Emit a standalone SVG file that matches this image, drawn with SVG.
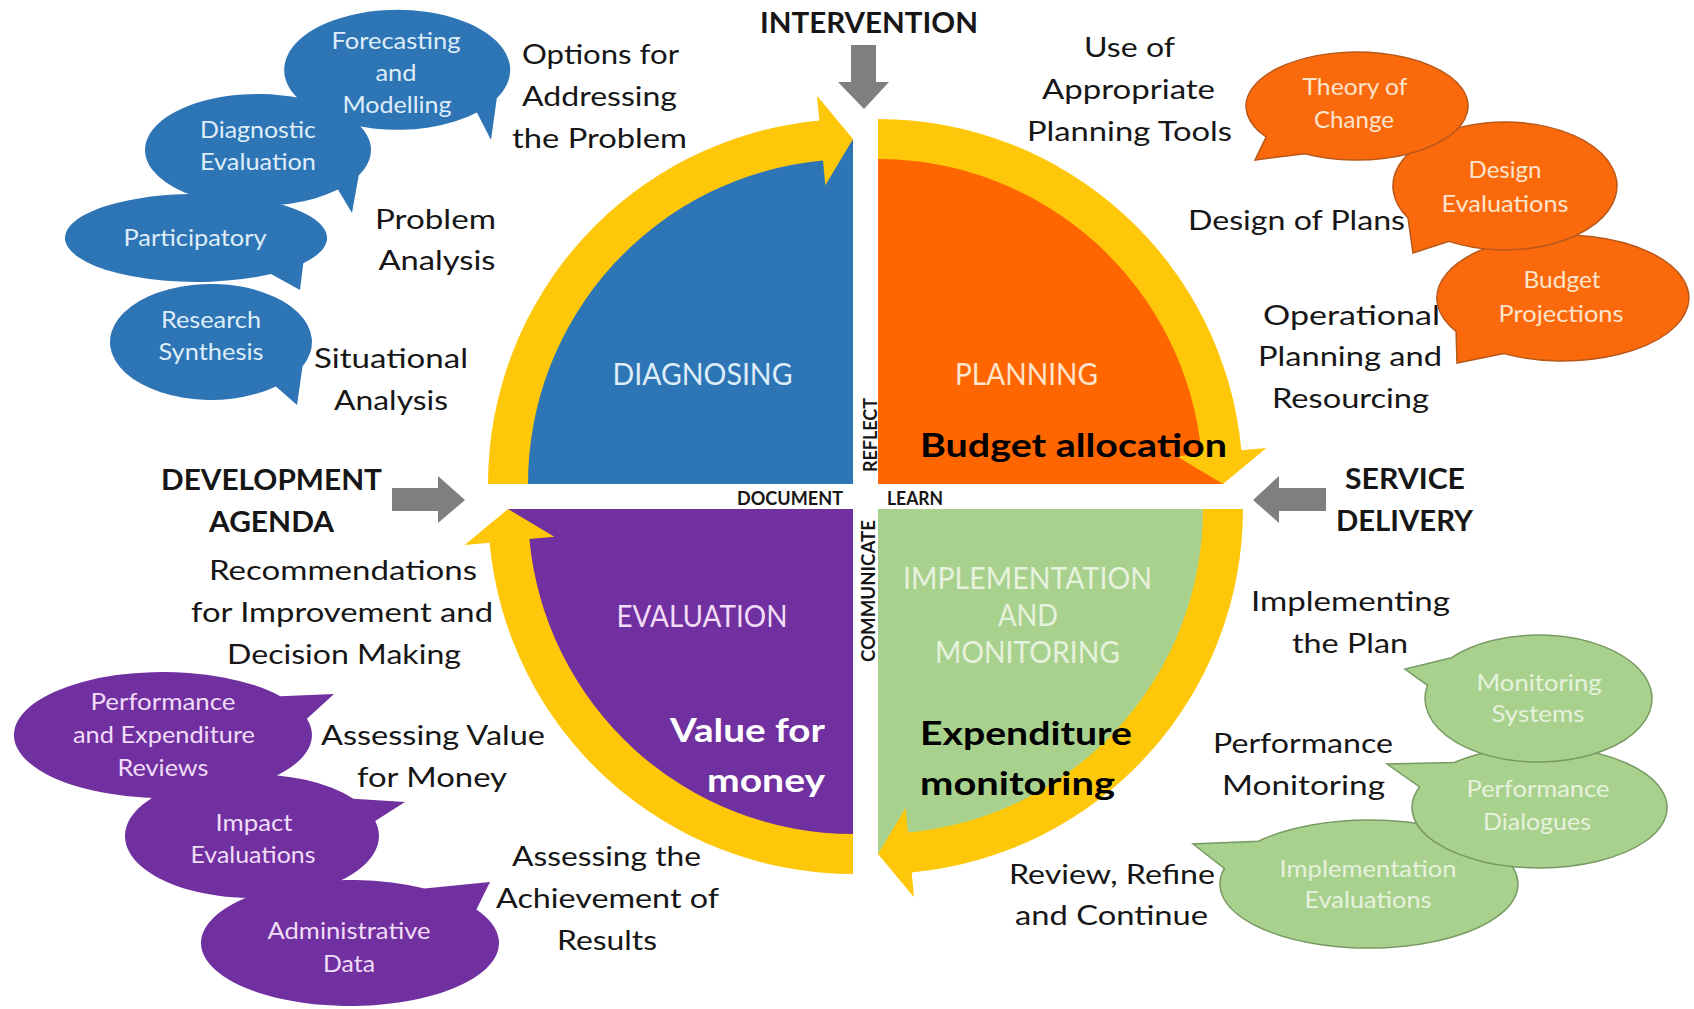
<svg xmlns="http://www.w3.org/2000/svg" width="1694" height="1009" viewBox="0 0 1694 1009">
  <defs>
    <style>
      text { font-family: Lato, "Open Sans", "Liberation Sans", sans-serif; }
      .lbl { font-size: 27px; fill: #161616; text-anchor: middle; }
      .hd { font-size: 29px; font-weight: 700; fill: #161616; text-anchor: middle; }
      .tag { font-size: 18px; font-weight: 700; fill: #161616; }
      .bt { font-size: 23px; text-anchor: middle; }
      .qt { font-size: 30px; text-anchor: middle; }
      .emph { font-size: 33px; font-weight: 700; }
      .ring { fill: #ffc709; }
      .gray { fill: #7f7f7f; }
      .q-blue, .b-blue { fill: #2e75b6; }
      .q-orange { fill: #ff6600; }
      .b-orange { fill: #fa6a0c; stroke: #b8581a; stroke-width: 1.5; }
      .q-green { fill: #a9d18e; }
      .b-green { fill: #a9d18e; stroke: #789a62; stroke-width: 1.5; }
      .q-purple, .b-purple { fill: #7030a0; }
      .t-blue { fill: #deedf8; }
      .t-orange { fill: #fde4cc; }
      .t-green { fill: #e6f2dd; }
      .t-purple { fill: #f1dcf7; }
      .t-white { fill: #ffffff; }
      .t-black { fill: #000000; }
    </style>
  </defs>
  <rect width="1694" height="1009" fill="#ffffff"/>

  <!-- four quadrants of the cycle -->
  <g id="quadrant-diagnosing"><path class="q-blue" d="M853 484 L508 484 A345 345 0 0 1 853 139 Z"/></g>
  <g id="quadrant-planning"><path class="q-orange" d="M878 484 L878 139 A345 345 0 0 1 1223 484 Z"/></g>
  <g id="quadrant-implementation"><path class="q-green" d="M878 509 L1223 509 A345 345 0 0 1 878 854 Z"/></g>
  <g id="quadrant-evaluation"><path class="q-purple" d="M853 509 L853 854 A345 345 0 0 1 508 509 Z"/></g>

  <!-- cycle arrows and external input arrows -->
  <g id="connectors">
    <path class="ring" d="M488 484 A365 365 0 0 1 819.3 120.6 L817 95.7 L853 139 L825.3 185.3 L823 160.4 A325 325 0 0 0 528 484 Z"/>
    <path class="ring" d="M878 119 A365 365 0 0 1 1241.4 450.3 L1266.3 448 L1223 484 L1176.7 456.3 L1201.6 454 A325 325 0 0 0 878 159 Z"/>
    <path class="ring" d="M1243 509 A365 365 0 0 1 911.7 872.4 L914 897.3 L878 854 L905.7 807.7 L908 832.6 A325 325 0 0 0 1203 509 Z"/>
    <path class="ring" d="M853 874 A365 365 0 0 1 489.6 542.7 L464.7 545 L508 509 L554.3 536.7 L529.4 539 A325 325 0 0 0 853 834 Z"/>
    <path class="gray" d="M851 45 L876 45 L876 82 L889 82 L864 109 L838 82 L851 82 Z"/>
    <path class="gray" d="M392 488 L438 488 L438 476 L465 500 L438 523 L438 511 L392 511 Z"/>
    <path class="gray" d="M1326 488 L1279 488 L1279 476 L1253 500 L1279 523 L1279 511 L1326 511 Z"/>
  </g>

  <!-- quadrant titles and highlights -->
  <g id="label-diagnosing"><text class="qt t-blue" x="702.5" y="385" textLength="180" lengthAdjust="spacingAndGlyphs">DIAGNOSING</text></g>
  <g id="label-planning"><text class="qt t-orange" x="1026.5" y="385" textLength="143" lengthAdjust="spacingAndGlyphs">PLANNING</text></g>
  <g id="label-evaluation"><text class="qt t-purple" x="702" y="627" textLength="171" lengthAdjust="spacingAndGlyphs">EVALUATION</text></g>
  <g id="label-implementation">
    <text class="qt t-green" x="1027.5" y="589" textLength="249" lengthAdjust="spacingAndGlyphs">IMPLEMENTATION</text>
    <text class="qt t-green" x="1028" y="626" textLength="60" lengthAdjust="spacingAndGlyphs">AND</text>
    <text class="qt t-green" x="1027.5" y="663" textLength="185" lengthAdjust="spacingAndGlyphs">MONITORING</text>
  </g>
  <g id="note-budget-allocation"><text class="emph t-black" x="920" y="457" textLength="307" lengthAdjust="spacingAndGlyphs">Budget allocation</text></g>
  <g id="note-value-for-money">
    <text class="emph t-white" x="825" y="742" text-anchor="end" textLength="155" lengthAdjust="spacingAndGlyphs">Value for</text>
    <text class="emph t-white" x="825" y="792" text-anchor="end" textLength="118" lengthAdjust="spacingAndGlyphs">money</text>
  </g>
  <g id="note-expenditure-monitoring">
    <text class="emph t-black" x="920" y="745" textLength="212" lengthAdjust="spacingAndGlyphs">Expenditure</text>
    <text class="emph t-black" x="920" y="795" textLength="195" lengthAdjust="spacingAndGlyphs">monitoring</text>
  </g>

  <!-- words in the gaps between quadrants -->
  <g id="gap-words">
    <text class="tag" x="737" y="505" textLength="106" lengthAdjust="spacingAndGlyphs">DOCUMENT</text>
    <text class="tag" x="887" y="505" textLength="56" lengthAdjust="spacingAndGlyphs">LEARN</text>
    <text class="tag" transform="translate(877 472) rotate(-90)" textLength="74" lengthAdjust="spacingAndGlyphs">REFLECT</text>
    <text class="tag" transform="translate(875 662) rotate(-90)" textLength="142" lengthAdjust="spacingAndGlyphs">COMMUNICATE</text>
  </g>

  <!-- external drivers -->
  <g id="driver-intervention"><text class="hd" x="869" y="33" textLength="218" lengthAdjust="spacingAndGlyphs">INTERVENTION</text></g>
  <g id="driver-development-agenda">
    <text class="hd" x="271.5" y="490" textLength="221" lengthAdjust="spacingAndGlyphs">DEVELOPMENT</text>
    <text class="hd" x="271.5" y="532" textLength="125" lengthAdjust="spacingAndGlyphs">AGENDA</text>
  </g>
  <g id="driver-service-delivery">
    <text class="hd" x="1405" y="489" textLength="120" lengthAdjust="spacingAndGlyphs">SERVICE</text>
    <text class="hd" x="1404.5" y="531" textLength="137" lengthAdjust="spacingAndGlyphs">DELIVERY</text>
  </g>

  <!-- step labels around the cycle -->
  <g id="step-options">
    <text class="lbl" x="600.5" y="64" textLength="157" lengthAdjust="spacingAndGlyphs">Options for</text>
    <text class="lbl" x="599.5" y="106" textLength="155" lengthAdjust="spacingAndGlyphs">Addressing</text>
    <text class="lbl" x="599.5" y="148" textLength="175" lengthAdjust="spacingAndGlyphs">the Problem</text>
  </g>
  <g id="step-problem-analysis">
    <text class="lbl" x="435.5" y="229" textLength="121" lengthAdjust="spacingAndGlyphs">Problem</text>
    <text class="lbl" x="437" y="270" textLength="117" lengthAdjust="spacingAndGlyphs">Analysis</text>
  </g>
  <g id="step-situational-analysis">
    <text class="lbl" x="391" y="368" textLength="154" lengthAdjust="spacingAndGlyphs">Situational</text>
    <text class="lbl" x="391" y="410" textLength="114" lengthAdjust="spacingAndGlyphs">Analysis</text>
  </g>
  <g id="step-planning-tools">
    <text class="lbl" x="1129.5" y="57" textLength="91" lengthAdjust="spacingAndGlyphs">Use of</text>
    <text class="lbl" x="1128.5" y="99" textLength="173" lengthAdjust="spacingAndGlyphs">Appropriate</text>
    <text class="lbl" x="1129.5" y="141" textLength="205" lengthAdjust="spacingAndGlyphs">Planning Tools</text>
  </g>
  <g id="step-design-of-plans"><text class="lbl" x="1296.5" y="230" textLength="217" lengthAdjust="spacingAndGlyphs">Design of Plans</text></g>
  <g id="step-operational-planning">
    <text class="lbl" x="1351.5" y="325" textLength="177" lengthAdjust="spacingAndGlyphs">Operational</text>
    <text class="lbl" x="1350" y="366" textLength="184" lengthAdjust="spacingAndGlyphs">Planning and</text>
    <text class="lbl" x="1350.5" y="408" textLength="157" lengthAdjust="spacingAndGlyphs">Resourcing</text>
  </g>
  <g id="step-implementing">
    <text class="lbl" x="1350.5" y="611" textLength="199" lengthAdjust="spacingAndGlyphs">Implementing</text>
    <text class="lbl" x="1350" y="653" textLength="116" lengthAdjust="spacingAndGlyphs">the Plan</text>
  </g>
  <g id="step-performance-monitoring">
    <text class="lbl" x="1303" y="753" textLength="180" lengthAdjust="spacingAndGlyphs">Performance</text>
    <text class="lbl" x="1303.5" y="795" textLength="163" lengthAdjust="spacingAndGlyphs">Monitoring</text>
  </g>
  <g id="step-review">
    <text class="lbl" x="1112" y="884" textLength="206" lengthAdjust="spacingAndGlyphs">Review, Refine</text>
    <text class="lbl" x="1111.5" y="925" textLength="193" lengthAdjust="spacingAndGlyphs">and Continue</text>
  </g>
  <g id="step-achievement">
    <text class="lbl" x="606.5" y="866" textLength="189" lengthAdjust="spacingAndGlyphs">Assessing the</text>
    <text class="lbl" x="607.5" y="908" textLength="223" lengthAdjust="spacingAndGlyphs">Achievement of</text>
    <text class="lbl" x="607" y="950" textLength="100" lengthAdjust="spacingAndGlyphs">Results</text>
  </g>
  <g id="step-value-for-money">
    <text class="lbl" x="433" y="745" textLength="224" lengthAdjust="spacingAndGlyphs">Assessing Value</text>
    <text class="lbl" x="432" y="787" textLength="150" lengthAdjust="spacingAndGlyphs">for Money</text>
  </g>
  <g id="step-recommendations">
    <text class="lbl" x="343" y="580" textLength="268" lengthAdjust="spacingAndGlyphs">Recommendations</text>
    <text class="lbl" x="342" y="622" textLength="302" lengthAdjust="spacingAndGlyphs">for Improvement and</text>
    <text class="lbl" x="344" y="664" textLength="234" lengthAdjust="spacingAndGlyphs">Decision Making</text>
  </g>

  <!-- diagnosing tools -->
  <g id="tool-research-synthesis">
    <path class="b-blue" d="M275.9 386.4 A101 58 0 1 1 302.5 366.5 L297 405 Z"/>
    <text class="bt t-blue" x="211" y="328" textLength="100" lengthAdjust="spacingAndGlyphs">Research</text>
    <text class="bt t-blue" x="211" y="360" textLength="105" lengthAdjust="spacingAndGlyphs">Synthesis</text>
  </g>
  <g id="tool-participatory">
    <path class="b-blue" d="M271.1 274 A131 44 0 1 1 303.3 263.2 L300 290 Z"/>
    <text class="bt t-blue" x="195" y="246" textLength="143" lengthAdjust="spacingAndGlyphs">Participatory</text>
  </g>
  <g id="tool-diagnostic-evaluation">
    <path class="b-blue" d="M337.9 189.6 A113 56 0 1 1 358.7 175.4 L352 213 Z"/>
    <text class="bt t-blue" x="258" y="138" textLength="116" lengthAdjust="spacingAndGlyphs">Diagnostic</text>
    <text class="bt t-blue" x="258" y="170" textLength="116" lengthAdjust="spacingAndGlyphs">Evaluation</text>
  </g>
  <g id="tool-forecasting">
    <path class="b-blue" d="M476.9 112.4 A113 60 0 1 1 496.8 98.2 L491 140 Z"/>
    <text class="bt t-blue" x="396" y="49" textLength="129" lengthAdjust="spacingAndGlyphs">Forecasting</text>
    <text class="bt t-blue" x="396" y="81" textLength="41" lengthAdjust="spacingAndGlyphs">and</text>
    <text class="bt t-blue" x="397" y="113" textLength="109" lengthAdjust="spacingAndGlyphs">Modelling</text>
  </g>

  <!-- planning tools -->
  <g id="tool-budget-projections">
    <path class="b-orange" d="M1456.1 331.4 A126 63 0 1 1 1503.8 353.6 L1457 363 Z"/>
    <text class="bt t-orange" x="1562" y="288" textLength="77" lengthAdjust="spacingAndGlyphs">Budget</text>
    <text class="bt t-orange" x="1561" y="322" textLength="125" lengthAdjust="spacingAndGlyphs">Projections</text>
  </g>
  <g id="tool-design-evaluations">
    <path class="b-orange" d="M1408 218 A112 64 0 1 1 1449 241.4 L1413 253 Z"/>
    <text class="bt t-orange" x="1505" y="178" textLength="73" lengthAdjust="spacingAndGlyphs">Design</text>
    <text class="bt t-orange" x="1505" y="212" textLength="127" lengthAdjust="spacingAndGlyphs">Evaluations</text>
  </g>
  <g id="tool-theory-of-change">
    <path class="b-orange" d="M1266.1 137 A111 54 0 1 1 1304.9 153.7 L1255 160 Z"/>
    <text class="bt t-orange" x="1355" y="95" textLength="105" lengthAdjust="spacingAndGlyphs">Theory of</text>
    <text class="bt t-orange" x="1354" y="128" textLength="80" lengthAdjust="spacingAndGlyphs">Change</text>
  </g>

  <!-- implementation tools -->
  <g id="tool-implementation-evaluations">
    <path class="b-green" d="M1258.3 841.2 A149 64 0 1 1 1224.4 868.5 L1193 844 Z"/>
    <text class="bt t-green" x="1368" y="877" textLength="177" lengthAdjust="spacingAndGlyphs">Implementation</text>
    <text class="bt t-green" x="1368" y="908" textLength="127" lengthAdjust="spacingAndGlyphs">Evaluations</text>
  </g>
  <g id="tool-performance-dialogues">
    <path class="b-green" d="M1454.2 762.5 A127.5 60.5 0 1 1 1419.7 786.8 L1387 764 Z"/>
    <text class="bt t-green" x="1538" y="797" textLength="143" lengthAdjust="spacingAndGlyphs">Performance</text>
    <text class="bt t-green" x="1537" y="830" textLength="108" lengthAdjust="spacingAndGlyphs">Dialogues</text>
  </g>
  <g id="tool-monitoring-systems">
    <path class="b-green" d="M1451.6 657.7 A113.5 63.5 0 1 1 1427.5 685.3 L1405 669 Z"/>
    <text class="bt t-green" x="1539" y="691" textLength="125" lengthAdjust="spacingAndGlyphs">Monitoring</text>
    <text class="bt t-green" x="1538" y="722" textLength="93" lengthAdjust="spacingAndGlyphs">Systems</text>
  </g>

  <!-- evaluation tools -->
  <g id="tool-administrative-data">
    <path class="b-purple" d="M476.4 909.6 A149 63 0 1 1 424.5 888.4 L490 882 Z"/>
    <text class="bt t-purple" x="349" y="939" textLength="163" lengthAdjust="spacingAndGlyphs">Administrative</text>
    <text class="bt t-purple" x="349" y="972" textLength="52" lengthAdjust="spacingAndGlyphs">Data</text>
  </g>
  <g id="tool-impact-evaluations">
    <path class="b-purple" d="M375.2 821 A127 62 0 1 1 353.4 798.7 L405 802 Z"/>
    <text class="bt t-purple" x="254" y="831" textLength="77" lengthAdjust="spacingAndGlyphs">Impact</text>
    <text class="bt t-purple" x="253" y="863" textLength="125" lengthAdjust="spacingAndGlyphs">Evaluations</text>
  </g>
  <g id="tool-performance-reviews">
    <path class="b-purple" d="M306.9 718.7 A149 63 0 1 1 280.4 696.2 L334 694 Z"/>
    <text class="bt t-purple" x="163" y="710" textLength="145" lengthAdjust="spacingAndGlyphs">Performance</text>
    <text class="bt t-purple" x="164" y="743" textLength="182" lengthAdjust="spacingAndGlyphs">and Expenditure</text>
    <text class="bt t-purple" x="163" y="776" textLength="91" lengthAdjust="spacingAndGlyphs">Reviews</text>
  </g>
</svg>
